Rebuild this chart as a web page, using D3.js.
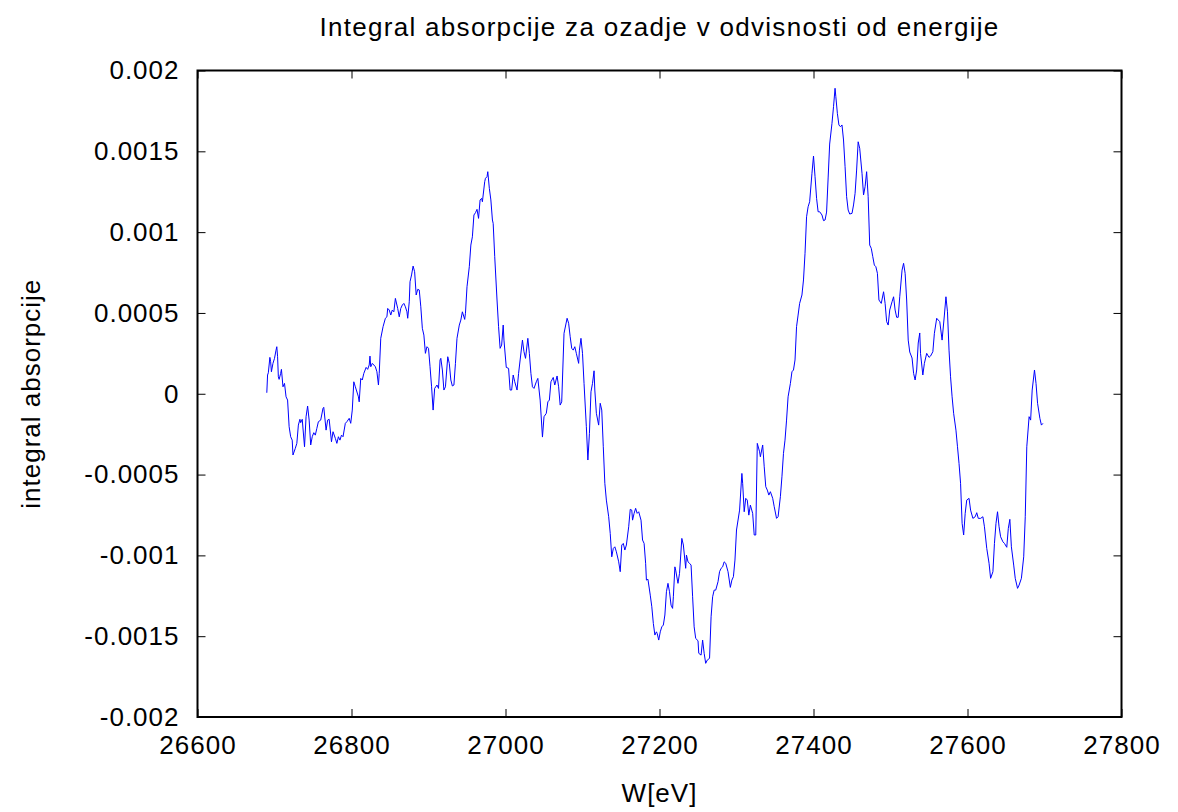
<!DOCTYPE html>
<html>
<head>
<meta charset="utf-8">
<script src="https://cdn.jsdelivr.net/npm/d3@7"></script>
<style>
  body { margin: 0; background: #fff; }
  text { font-family: "Liberation Sans", Arial, sans-serif; fill: #000; }
</style>
</head>
<body>
<div id="chart"></div>
<script>
// Energy [eV]
const energy = [26690,26691,26692,26694,26695,26696,26698,26700,26702,26703,26704,26705,26706,26708,26709,26711,26713,26715,26717,26719,
  26721,26723,26724,26727,26729,26731,26733,26734,26736,26739,26741,26743,26745,26747,26749,26751,26753,26755,26757,26760,
  26763,26764,26767,26769,26771,26774,26776,26779,26781,26783,26785,26787,26789,26792,26794,26797,26799,26801,26803,26805,
  26809,26810,26812,26814,26816,26819,26821,26823,26824,26825,26827,26829,26831,26833,26835,26836,26838,26841,26844,26846,
  26847,26849,26851,26853,26855,26857,26860,26862,26864,26866,26868,26870,26872,26873,26875,26876,26878,26880,26882,26884,
  26886,26888,26890,26892,26894,26896,26898,26900,26902,26904,26906,26908,26911,26913,26915,26916,26918,26920,26922,26925,
  26927,26929,26931,26933,26935,26937,26940,26942,26944,26947,26948,26950,26953,26955,26957,26959,26961,26963,26965,26967,
  26969,26970,26973,26974,26976,26977,26979,26981,26983,26984,26986,26989,26991,26993,26995,26997,26998,27001,27004,27006,
  27008,27010,27012,27015,27017,27019,27022,27024,27026,27029,27031,27033,27035,27037,27040,27042,27045,27048,27050,27053,
  27055,27057,27059,27062,27064,27067,27069,27071,27073,27076,27080,27082,27084,27086,27088,27090,27092,27095,27096,27098,
  27100,27102,27105,27107,27109,27111,27113,27115,27116,27118,27121,27123,27125,27127,27129,27131,27134,27136,27138,27140,
  27142,27144,27147,27149,27151,27153,27155,27157,27160,27162,27164,27165,27167,27169,27171,27173,27176,27178,27180,27182,
  27183,27185,27188,27190,27192,27194,27196,27197,27199,27201,27203,27205,27207,27209,27211,27213,27215,27217,27218,27220,
  27221,27224,27226,27229,27231,27234,27235,27237,27239,27241,27243,27245,27247,27250,27251,27254,27256,27258,27260,27262,
  27265,27267,27269,27271,27273,27276,27278,27280,27282,27284,27286,27289,27292,27294,27296,27298,27300,27304,27307,27308,
  27310,27312,27314,27316,27318,27321,27323,27325,27327,27330,27331,27334,27336,27338,27340,27342,27344,27347,27349,27352,
  27354,27357,27359,27361,27363,27365,27367,27370,27372,27374,27376,27378,27380,27382,27385,27387,27389,27391,27393,27395,
  27398,27400,27402,27404,27406,27408,27411,27413,27415,27417,27419,27421,27424,27426,27428,27429,27431,27433,27435,27437,
  27439,27441,27443,27445,27447,27450,27452,27454,27456,27458,27460,27463,27465,27467,27469,27471,27473,27475,27477,27479,
  27481,27483,27485,27488,27491,27493,27495,27497,27499,27502,27504,27506,27508,27510,27512,27515,27517,27519,27521,27523,
  27525,27528,27530,27532,27534,27536,27538,27539,27542,27544,27547,27550,27552,27555,27557,27560,27562,27564,27567,27570,
  27572,27574,27576,27578,27580,27582,27585,27587,27589,27591,27593,27595,27597,27599,27602,27604,27607,27610,27612,27614,
  27617,27620,27622,27625,27628,27630,27633,27635,27637,27639,27641,27643,27646,27648,27651,27653,27655,27657,27660,27662,
  27665,27667,27670,27673,27675,27677,27680,27682,27684,27687,27689,27691,27694,27696,27698]

// integral absorpcije
const absorption = [0.000006,0.000116,0.000130,0.000225,0.000198,0.000136,0.000188,0.000219,0.000270,0.000291,0.000229,0.000105,0.000089,0.000126,0.000151,0.000043,0.000064,-0.000019,-0.000039,-0.000204,
  -0.000266,-0.000287,-0.000379,-0.000338,-0.000307,-0.000194,-0.000158,-0.000179,-0.000158,-0.000328,-0.000142,-0.000076,-0.000163,-0.000317,-0.000266,-0.000241,-0.000256,-0.000214,-0.000173,-0.000163,
  -0.000090,-0.000084,-0.000225,-0.000163,-0.000158,-0.000297,-0.000235,-0.000276,-0.000307,-0.000266,-0.000287,-0.000256,-0.000266,-0.000183,-0.000173,-0.000152,-0.000183,-0.000101,0.000074,0.000043,
  -0.000019,-0.000050,0.000095,0.000085,0.000126,0.000163,0.000151,0.000178,0.000233,0.000167,0.000188,0.000178,0.000167,0.000136,0.000054,0.000126,0.000343,0.000415,0.000467,0.000476,
  0.000528,0.000518,0.000487,0.000518,0.000507,0.000590,0.000528,0.000476,0.000528,0.000549,0.000559,0.000538,0.000507,0.000467,0.000569,0.000693,0.000735,0.000790,0.000755,0.000611,
  0.000646,0.000642,0.000538,0.000405,0.000363,0.000250,0.000291,0.000281,0.000167,0.000043,-0.000101,0.000033,0.000054,0.000033,0.000209,0.000219,0.000147,0.000023,0.000043,0.000229,
  0.000188,0.000085,0.000048,0.000054,0.000188,0.000343,0.000425,0.000456,0.000507,0.000460,0.000498,0.000662,0.000786,0.000920,0.000971,0.001106,0.001120,0.001141,0.001085,0.001199,
  0.001209,0.001188,0.001312,0.001333,0.001343,0.001374,0.001271,0.001199,0.001075,0.001054,0.000848,0.000580,0.000415,0.000281,0.000301,0.000425,0.000332,0.000163,0.000157,0.000023,
  0.000023,0.000116,0.000074,0.000023,0.000126,0.000209,0.000332,0.000260,0.000219,0.000343,0.000250,0.000126,0.000043,0.000033,0.000074,0.000095,-0.000039,-0.000268,-0.000142,-0.000121,
  -0.000050,-0.000039,0.000074,0.000101,0.000054,0.000110,0.000043,-0.000070,-0.000050,0.000374,0.000467,0.000436,0.000353,0.000281,0.000270,0.000291,0.000250,0.000188,0.000270,0.000343,
  0.000250,0.000064,-0.000204,-0.000410,-0.000245,0.000012,0.000064,0.000142,0.000023,-0.000121,-0.000194,-0.000059,-0.000101,-0.000328,-0.000554,-0.000658,-0.000761,-0.000864,-0.001009,-0.000957,
  -0.000947,-0.000978,-0.001040,-0.001101,-0.000936,-0.000926,-0.000967,-0.000936,-0.000823,-0.000715,-0.000720,-0.000782,-0.000740,-0.000709,-0.000740,-0.000730,-0.000782,-0.000905,-0.000926,-0.001049,
  -0.001153,-0.001148,-0.001246,-0.001318,-0.001421,-0.001493,-0.001473,-0.001483,-0.001524,-0.001473,-0.001442,-0.001431,-0.001369,-0.001225,-0.001173,-0.001225,-0.001308,-0.001328,-0.001256,-0.001071,
  -0.001091,-0.001173,-0.001111,-0.000895,-0.000936,-0.001080,-0.000998,-0.001040,-0.001049,-0.001060,-0.001256,-0.001442,-0.001514,-0.001528,-0.001606,-0.001617,-0.001524,-0.001606,-0.001668,-0.001648,
  -0.001637,-0.001380,-0.001256,-0.001215,-0.001215,-0.001163,-0.001101,-0.001080,-0.001071,-0.001040,-0.001049,-0.001101,-0.001198,-0.001153,-0.001132,-0.001029,-0.000843,-0.000720,-0.000493,-0.000554,
  -0.000730,-0.000647,-0.000658,-0.000751,-0.000689,-0.000740,-0.000874,-0.000874,-0.000307,-0.000359,-0.000390,-0.000317,-0.000452,-0.000575,-0.000596,-0.000627,-0.000606,-0.000647,-0.000699,-0.000771,
  -0.000761,-0.000637,-0.000514,-0.000369,-0.000287,-0.000163,-0.000019,0.000064,0.000136,0.000147,0.000209,0.000415,0.000487,0.000559,0.000611,0.000704,0.000869,0.001095,0.001157,0.001188,
  0.001364,0.001471,0.001343,0.001209,0.001126,0.001126,0.001106,0.001071,0.001075,0.001124,0.001335,0.001545,0.001673,0.001776,0.001890,0.001838,0.001735,0.001663,0.001652,0.001663,
  0.001570,0.001405,0.001219,0.001137,0.001112,0.001116,0.001168,0.001240,0.001384,0.001559,0.001519,0.001364,0.001230,0.001281,0.001374,0.001219,0.000920,0.000900,0.000848,0.000796,
  0.000786,0.000745,0.000580,0.000559,0.000631,0.000559,0.000446,0.000425,0.000518,0.000569,0.000600,0.000518,0.000473,0.000473,0.000600,0.000765,0.000807,0.000745,0.000580,0.000332,
  0.000258,0.000221,0.000126,0.000085,0.000147,0.000314,0.000376,0.000250,0.000116,0.000188,0.000250,0.000225,0.000233,0.000260,0.000374,0.000467,0.000456,0.000446,0.000332,0.000487,
  0.000600,0.000507,0.000270,0.000105,-0.000019,-0.000121,-0.000225,-0.000328,-0.000431,-0.000554,-0.000802,-0.000874,-0.000740,-0.000658,-0.000647,-0.000720,-0.000771,-0.000761,-0.000736,-0.000771,
  -0.000771,-0.000761,-0.000823,-0.000957,-0.001049,-0.001142,-0.001101,-0.000926,-0.000802,-0.000730,-0.000823,-0.000885,-0.000916,-0.000926,-0.000950,-0.000833,-0.000777,-0.000947,-0.001060,-0.001142,
  -0.001204,-0.001184,-0.001142,-0.001009,-0.000761,-0.000328,-0.000142,-0.000163,0.000023,0.000147,0.000064,-0.000059,-0.000152,-0.000194,-0.000183]

const xTicks = [26600, 26800, 27000, 27200, 27400, 27600, 27800]
const yTicks = [-0.002, -0.0015, -0.001, -0.0005, 0, 0.0005, 0.001, 0.0015, 0.002]
const yTickLabels = ["-0.002", "-0.0015", "-0.001", "-0.0005", "0", "0.0005", "0.001", "0.0015", "0.002"]

const W = 1178, H = 812
const margin = { top: 70.5, right: 56.5, bottom: 95, left: 197.5 }
const width = W - margin.left - margin.right
const height = H - margin.top - margin.bottom
const tickLen = 8
const fontSize = "26px"

const points = energy.map((e, i) => ({ e: e, a: absorption[i] }))

const svg = d3.select("#chart").append("svg")
    .attr("width", W)
    .attr("height", H)

const g = svg.append("g")
    .attr("transform", "translate(" + margin.left + "," + margin.top + ")")

const x = d3.scaleLinear().domain([26600, 27800]).range([0, width])
const y = d3.scaleLinear().domain([-0.002, 0.002]).range([height, 0])

// ticks (inward, mirrored like gnuplot)
const tickStyle = sel => sel.call(s => s.select(".domain").remove())
    .call(s => s.selectAll("line").attr("stroke", "#000").attr("stroke-width", 1))

g.append("g").attr("transform", "translate(0," + height + ")")
    .call(d3.axisBottom(x).tickValues(xTicks).tickSize(-tickLen).tickPadding(19).tickFormat(d3.format("d")))
    .call(tickStyle)
g.append("g")
    .call(d3.axisTop(x).tickValues(xTicks).tickSize(-tickLen).tickFormat(""))
    .call(tickStyle)
g.append("g")
    .call(d3.axisLeft(y).tickValues(yTicks).tickSize(-tickLen).tickPadding(18).tickFormat((d, i) => yTickLabels[i]))
    .call(tickStyle)
g.append("g").attr("transform", "translate(" + width + ",0)")
    .call(d3.axisRight(y).tickValues(yTicks).tickSize(-tickLen).tickFormat(""))
    .call(tickStyle)

g.selectAll(".tick text")
    .style("font-family", '"Liberation Sans", Arial, sans-serif')
    .style("font-size", fontSize)
    .style("letter-spacing", "1px")
    .attr("fill", "#000")

// data line
g.append("path")
    .datum(points)
    .attr("fill", "none")
    .attr("stroke", "#0000ff")
    .attr("stroke-width", 1)
    .attr("d", d3.line().x(d => x(d.e)).y(d => y(d.a)))

// frame
g.append("rect")
    .attr("width", width)
    .attr("height", height)
    .attr("fill", "none")
    .attr("stroke", "#000")
    .attr("stroke-width", 2)

// labels
svg.append("text")
    .attr("x", margin.left + width / 2)
    .attr("y", 36)
    .attr("text-anchor", "middle")
    .style("font-size", fontSize)
    .style("letter-spacing", "1.3px")
    .text("Integral absorpcije za ozadje v odvisnosti od energije")

svg.append("text")
    .attr("x", margin.left + width / 2)
    .attr("y", 802)
    .attr("text-anchor", "middle")
    .style("font-size", fontSize)
    .style("letter-spacing", "1px")
    .text("W[eV]")

svg.append("text")
    .attr("transform", "translate(40," + (margin.top + height / 2) + ") rotate(-90)")
    .attr("text-anchor", "middle")
    .style("font-size", fontSize)
    .style("letter-spacing", "1px")
    .text("integral absorpcije")
</script>
</body>
</html>
